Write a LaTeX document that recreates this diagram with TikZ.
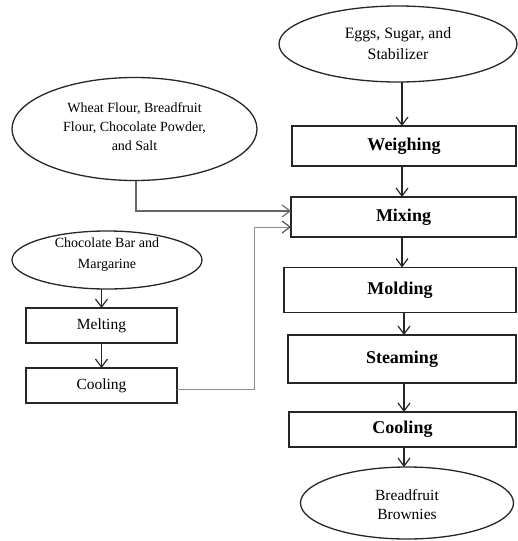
\documentclass[tikz,border=0pt]{standalone}
\usepackage{fontspec}
\setmainfont{Liberation Serif}
\usetikzlibrary{shapes.geometric,arrows.meta,calc}
\begin{document}
\begin{tikzpicture}[x=1pt,y=-1pt,
  ell/.style={draw=black!85,line width=1.3pt,ellipse,inner sep=0pt,outer sep=0pt},
  bigbox/.style={draw=black!85,line width=1.4pt,rectangle,inner sep=0pt,outer sep=0pt,
     font=\fontsize{18}{22}\selectfont\bfseries},
  smallbox/.style={draw=black!85,line width=1.3pt,rectangle,inner sep=0pt,outer sep=0pt,
     font=\fontsize{15.5}{18}\selectfont},
  arr/.style={draw=black!85,line width=1.2pt,-{Straight Barb[length=8pt,width=12pt,line width=1.2pt]}},
  conn/.style={draw=black!60,line width=1.1pt,-{Straight Barb[length=8pt,width=12pt,line width=1.1pt]}},
  conn2/.style={draw=black!45,line width=1pt,-{Straight Barb[length=8pt,width=12pt,line width=1.1pt,black!70]}}
]
\useasboundingbox (0,0) rectangle (517,541);

% ellipses
\node[ell,minimum width=238,minimum height=76] (eggs) at (398,44) {};
\node[align=center,font=\fontsize{15.8}{21}\selectfont] (eggst) at (eggs) {Eggs, Sugar, and\\Stabilizer};

\node[ell,minimum width=245,minimum height=103] (wheat) at (134.5,129) {};
\node[align=center,font=\fontsize{14}{19}\selectfont] (wheatt) at ($(wheat)+(0,-2)$) {Wheat Flour, Breadfruit\\Flour, Chocolate Powder,\\and Salt};

\node[ell,minimum width=190,minimum height=58] (choc) at (107,260) {};
\node[align=center,font=\fontsize{14}{21}\selectfont] (choct) at ($(choc)+(0,-5)$) {Chocolate Bar and\\Margarine};

\node[ell,minimum width=213,minimum height=72] (brown) at (407,503) {};
\node[align=center,font=\fontsize{15.5}{19}\selectfont] (brownt) at ($(brown)+(0,1.5)$) {Breadfruit\\Brownies};

% right column boxes
\node[bigbox,minimum width=224,minimum height=40] (weigh) at (404,146) {Weighing};
\node[bigbox,minimum width=225,minimum height=40] (mix) at (403.5,217) {\raisebox{1.5pt}{Mixing}};
\node[bigbox,minimum width=232,minimum height=45] (mold) at (400,290) {\raisebox{3pt}{Molding}};
\node[bigbox,minimum width=228,minimum height=48] (steam) at (402,359) {\raisebox{4pt}{Steaming}};
\node[bigbox,minimum width=227,minimum height=35] (cool2) at (402.5,429.5) {Cooling};

% left column boxes
\node[smallbox,minimum width=151,minimum height=35] (melt) at (101.5,325.5) {Melting};
\node[smallbox,minimum width=151,minimum height=35] (cool1) at (101.5,385.5) {Cooling};

% arrows main column
\draw[arr] (eggs.south -| 402,0) -- (weigh.north -| 402,0);
\draw[arr] (weigh.south -| 402,0) -- (mix.north -| 402,0);
\draw[arr] (mix.south -| 402,0) -- (mold.north -| 402,0);
\draw[arr] (mold.south -| 404,0) -- (steam.north -| 404,0);
\draw[arr] (steam.south -| 404,0) -- (cool2.north -| 404,0);
\draw[arr] (cool2.south -| 404,0) -- (brown.north -| 404,0);

% left column arrows
\draw[arr] (choc.south -| melt.north) -- (melt.north);
\draw[arr] (melt.south) -- (cool1.north);

% connectors into mixing
\draw[conn] (wheat.south -| 136,0) |- ([yshift=6pt]mix.west);
\coordinate (bend) at (254.5,389);
\draw[conn2] ([yshift=-3.5pt]cool1.east) -- (bend) |- ([yshift=-10pt]mix.west);
\end{tikzpicture}
\end{document}
